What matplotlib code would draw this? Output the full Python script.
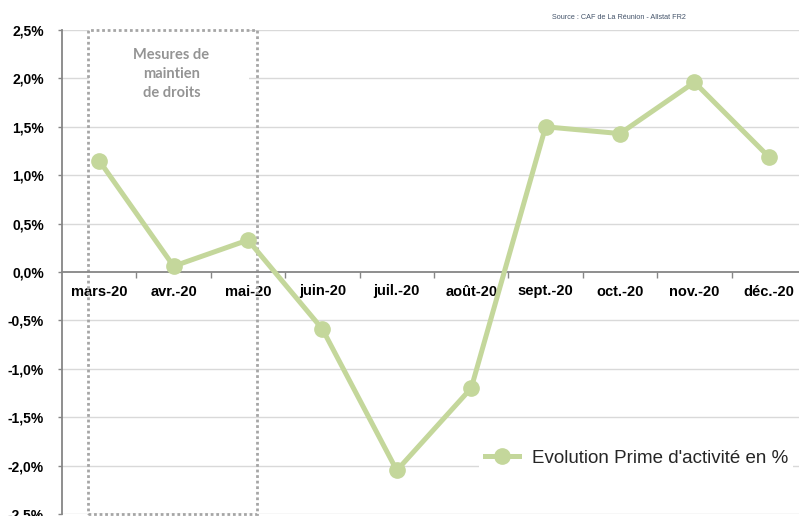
import matplotlib.pyplot as plt
from matplotlib.patches import Rectangle
import numpy as np

mois = ["mars-20", "avr.-20", "mai-20", "juin-20", "juil.-20", "août-20",
        "sept.-20", "oct.-20", "nov.-20", "déc.-20"]
evolution = [1.15, 0.06, 0.33, -0.59, -2.05, -1.20, 1.50, 1.43, 1.96, 1.19]
y_ticks = [-2.5, -2.0, -1.5, -1.0, -0.5, 0.0, 0.5, 1.0, 1.5, 2.0, 2.5]
y_labels = ["-2,5%", "-2,0%", "-1,5%", "-1,0%", "-0,5%", "0,0%",
            "0,5%", "1,0%", "1,5%", "2,0%", "2,5%"]

plt.rcParams['font.family'] = ['Liberation Sans', 'DejaVu Sans']
vert = "#c4d79b"

fig = plt.figure(figsize=(7.99, 5.16), dpi=100)
W, H = 799, 516
ax = fig.add_axes([62 / W, 2 / H, (806 - 62) / W, (514 - 30) / H])

x = np.arange(len(mois))
ax.set_xlim(-0.5, len(mois) - 0.5)
ax.set_ylim(-2.5, 2.5)

# grille
for y in y_ticks:
    if y != 0:
        ax.axhline(y, color="#d9d9d9", linewidth=1, zorder=0)

# zone "mesures de maintien de droits"
ax.add_patch(Rectangle((-0.135, 1.72), 2.15, 0.78, facecolor="white",
                       edgecolor="none", zorder=1))
ax.add_patch(Rectangle((-0.15, -2.5), 2.27, 5.0, facecolor="none",
                       edgecolor="#a6a6a6", linewidth=2, linestyle=(0, (1, 1)),
                       zorder=2, clip_on=False))
ax.text(0.97, 2.05, "Mesures de\nmaintien\nde droits", ha="center", va="center",
        fontsize=10.5, fontweight="bold", color="#949494", family=["Lato", "DejaVu Sans"],
        linespacing=1.45, zorder=3)

ax.plot(x, evolution, color=vert, linewidth=3.6, marker="o", markersize=11,
        label="Evolution Prime d'activité en %", zorder=4, clip_on=False)

# axes
for s in ["top", "right"]:
    ax.spines[s].set_visible(False)
ax.spines["left"].set_color("#868686")
ax.spines["left"].set_linewidth(1.3)
ax.spines["bottom"].set_position(("data", 0))
ax.spines["bottom"].set_color("#868686")
ax.spines["bottom"].set_linewidth(1.3)

ax.set_yticks(y_ticks)
ax.set_yticklabels(y_labels, fontsize=10, fontweight="bold")
ax.tick_params(axis="y", length=3, width=1, color="#868686", pad=10)

ax.set_xticks(x)
ax.set_xticklabels(mois, fontsize=10.5, fontweight="bold")
ax.set_xticks(np.arange(0.5, len(mois) - 0.5, 1), minor=True)
ax.tick_params(axis="x", which="major", length=0, pad=9)
ax.tick_params(axis="x", which="minor", length=4, width=1, color="#868686")

leg = ax.legend(loc="center left", bbox_to_anchor=(479 / W, 1 - 458 / H),
                bbox_transform=fig.transFigure, frameon=True, fontsize=13.5,
                handlelength=1.85, handletextpad=0.65, borderpad=0.3,
                borderaxespad=0, markerscale=1.0)
leg.get_frame().set_facecolor("white")
leg.get_frame().set_edgecolor("none")
leg.get_frame().set_alpha(1)
for t in leg.get_texts():
    t.set_color("#262626")

fig.text(552 / W, 1 - 17 / H, "Source : CAF de La Réunion - Allstat FR2",
         fontsize=5.2, color="#44546a", va="center", ha="left")

fig.savefig("out.png", dpi=100)
